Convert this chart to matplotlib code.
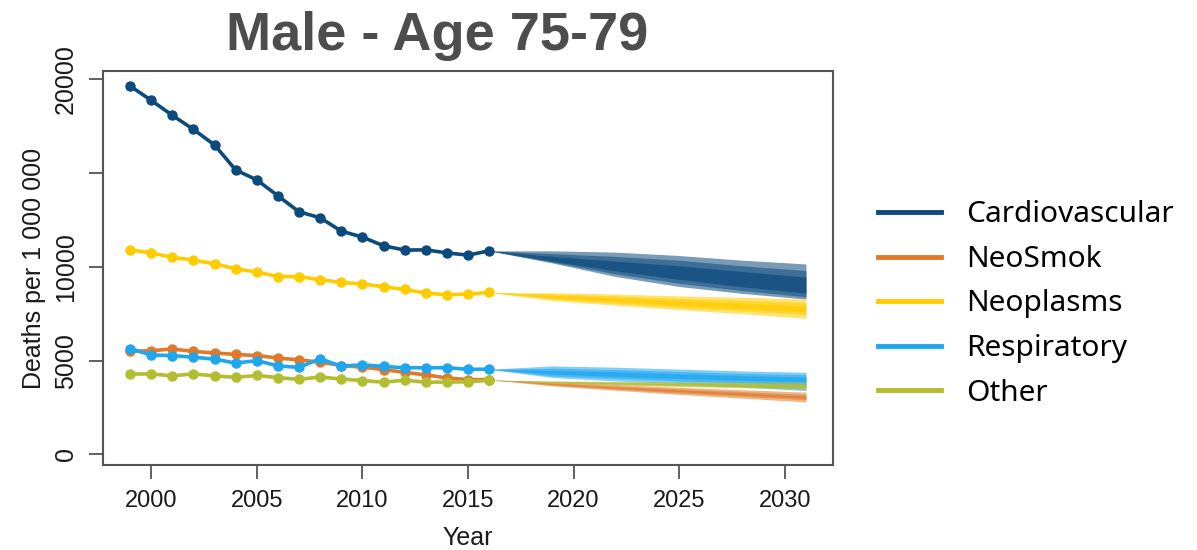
import matplotlib
matplotlib.use("Agg")
import matplotlib.pyplot as plt
from matplotlib.lines import Line2D

# observed years and projection years
years = list(range(1999, 2017))
proj_years = [2016, 2019, 2022, 2025, 2028, 2031]

causes = ["Cardiovascular", "NeoSmok", "Neoplasms", "Respiratory", "Other"]
colors = ["#0b4a7d", "#e07a2a", "#ffcc00", "#1ea6ef", "#b3bd30"]

# observed death rates per 1 000 000
cardio = [19630, 18870, 18070, 17320, 16490, 15160, 14630, 13780, 12930,
          12610, 11900, 11580, 11120, 10890, 10900, 10740, 10620, 10850]
neosmok = [5490, 5530, 5620, 5490, 5410, 5330, 5270, 5140, 5040,
           4920, 4740, 4650, 4520, 4380, 4240, 4080, 3990, 3990]
neoplasms = [10900, 10740, 10500, 10360, 10160, 9890, 9720, 9480, 9480,
             9310, 9170, 9080, 8940, 8790, 8600, 8510, 8550, 8630]
respiratory = [5640, 5300, 5270, 5180, 5080, 4870, 5000, 4720, 4640,
               5100, 4700, 4780, 4690, 4620, 4620, 4620, 4540, 4540]
other = [4290, 4290, 4190, 4290, 4190, 4110, 4210, 4100, 4000,
         4130, 4020, 3940, 3850, 3960, 3850, 3860, 3870, 3950]

# projection fans: (low, high) for outer, middle, inner band
cardio_fan = [
    ([10850, 10200, 9480, 8950, 8580, 8280], [10850, 10850, 10780, 10600, 10350, 10150]),
    ([10850, 10250, 9620, 9120, 8730, 8400], [10850, 10700, 10550, 10350, 10050, 9800]),
    ([10850, 10300, 9780, 9330, 8930, 8600], [10850, 10550, 10300, 10050, 9750, 9450]),
]
neosmok_fan = [
    ([3990, 3650, 3420, 3200, 3000, 2800], [3990, 3880, 3720, 3580, 3450, 3320]),
    ([3990, 3700, 3480, 3280, 3100, 2920], [3990, 3820, 3650, 3500, 3350, 3200]),
    ([3990, 3740, 3530, 3350, 3170, 3000], [3990, 3780, 3590, 3430, 3270, 3100]),
]
neoplasms_fan = [
    ([8630, 8200, 7950, 7720, 7500, 7250], [8630, 8620, 8550, 8450, 8380, 8280]),
    ([8630, 8280, 8050, 7830, 7650, 7450], [8630, 8550, 8450, 8320, 8220, 8100]),
    ([8630, 8350, 8150, 7950, 7780, 7600], [8630, 8480, 8350, 8200, 8050, 7920]),
]
respiratory_fan = [
    ([4540, 4100, 3920, 3780, 3600, 3400], [4540, 4720, 4650, 4550, 4450, 4380]),
    ([4540, 4180, 4050, 3920, 3820, 3720], [4540, 4600, 4520, 4420, 4320, 4250]),
    ([4540, 4280, 4150, 4050, 3950, 3880], [4540, 4480, 4400, 4300, 4200, 4120]),
]
other_fan = [
    ([3950, 3800, 3700, 3620, 3550, 3480], [3950, 3920, 3900, 3880, 3860, 3850]),
    ([3950, 3820, 3730, 3660, 3590, 3530], [3950, 3900, 3860, 3820, 3790, 3770]),
    ([3950, 3840, 3760, 3700, 3640, 3590], [3950, 3880, 3830, 3780, 3730, 3700]),
]

series = [cardio, neosmok, neoplasms, respiratory, other]
fans = [cardio_fan, neosmok_fan, neoplasms_fan, respiratory_fan, other_fan]
band_alpha = [0.55, 0.55, 0.7]

yticks = [0, 5000, 10000, 15000, 20000]
ytick_labels = ["0", "5000", "10000", "", "20000"]
xticks = [2000, 2005, 2010, 2015, 2020, 2025, 2030]

plt.rcParams["font.family"] = ["Liberation Sans", "DejaVu Sans"]

fig = plt.figure(figsize=(11.97, 5.5), dpi=100)
ax = fig.add_axes([103 / 1197, 85 / 550, 730 / 1197, 394 / 550])

for i, (fan, col) in enumerate(zip(fans, colors)):
    for (lo, hi), a in zip(fan, band_alpha):
        ax.fill_between(proj_years, lo, hi, color=col, alpha=a, lw=0, zorder=2 + i * 0.1)
for i, (vals, col) in enumerate(zip(series, colors)):
    ax.plot(years, vals, color=col, lw=2.6, marker="o", ms=6.5, zorder=4 + i * 0.1)

ax.set_xlim(1997.72, 2032.28)
ax.set_ylim(-560, 20430)
ax.set_xticks(xticks)
ax.set_xticklabels([str(x) for x in xticks], fontsize=17)
ax.set_yticks(yticks)
ax.set_yticklabels(ytick_labels, fontsize=18, rotation=90, va="center")
ax.tick_params(length=10, width=1.3, color="#555555", pad=8, labelcolor="#1a1a1a")
for s in ax.spines.values():
    s.set_color("#555555")
    s.set_linewidth(1.5)

ax.set_xlabel("Year", fontsize=18, color="#1a1a1a", labelpad=10)
ax.set_ylabel("Deaths per 1 000 000", fontsize=18, color="#1a1a1a", labelpad=6)

fig.text(437 / 1197, 1 - 50 / 550, "Male - Age 75-79", fontsize=39, fontweight="bold",
         color="#4d4d4d", ha="center", va="baseline")

handles = [Line2D([0], [0], color=c, lw=3.5) for c in colors]
fig.legend(handles, causes, loc="center left", bbox_to_anchor=(878 / 1197, 1 - 304 / 550),
           frameon=False, handlelength=2.1, handletextpad=0.85,
           labelspacing=0.52, borderpad=0, borderaxespad=0, prop={"family": "Noto Sans", "size": 21.5})

fig.savefig("out.png", dpi=100, facecolor="white")
